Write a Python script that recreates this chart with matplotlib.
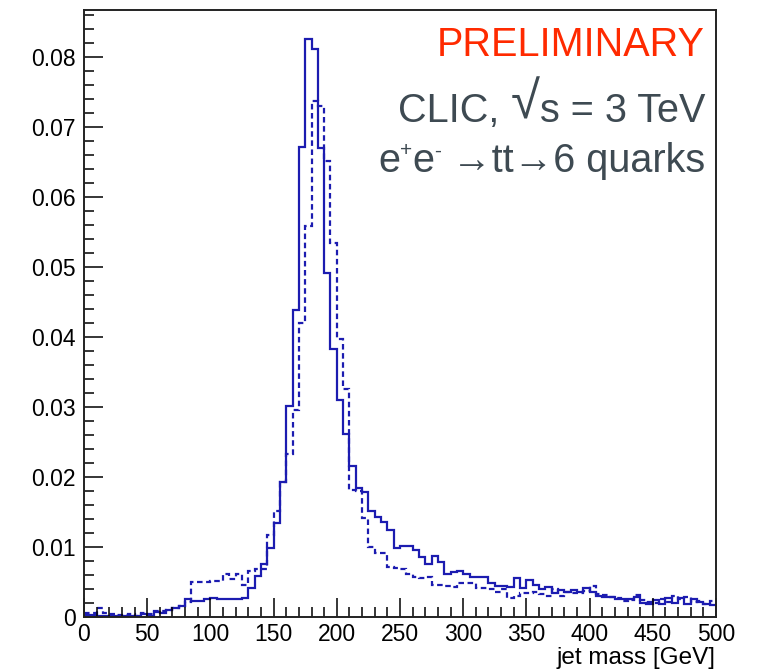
import numpy as np
import matplotlib
matplotlib.use("Agg")
import matplotlib.pyplot as plt
from matplotlib.ticker import MultipleLocator, FuncFormatter

plt.rcParams['font.family'] = ['Liberation Sans', 'DejaVu Sans']

# jet mass histogram, 5 GeV bins from 0 to 500 GeV (normalised)
bin_edges = np.linspace(0, 500, 101)

# solid line
solid = [
    0.0003, 0.0003, 0.0002, 0.0002, 0.0001, 0.0001, 0.0002, 0.0001, 0.0001, 0.0004,
    0.0002, 0.0007, 0.0006, 0.0010, 0.0013, 0.0015, 0.0026, 0.0023, 0.0023, 0.0026,
    0.0027, 0.0025, 0.0025, 0.0026, 0.0025, 0.0027, 0.0041, 0.0059, 0.0075, 0.0098,
    0.0134, 0.0193, 0.0302, 0.0439, 0.0672, 0.0825, 0.0811, 0.0670, 0.0491, 0.0383,
    0.0310, 0.0262, 0.0215, 0.0184, 0.0179, 0.0152, 0.0143, 0.0136, 0.0124, 0.0098,
    0.0101, 0.0101, 0.0095, 0.0085, 0.0076, 0.0087, 0.0079, 0.0062, 0.0064, 0.0066,
    0.0061, 0.0057, 0.0057, 0.0057, 0.0048, 0.0044, 0.0044, 0.0043, 0.0055, 0.0042,
    0.0053, 0.0046, 0.0040, 0.0043, 0.0034, 0.0038, 0.0036, 0.0038, 0.0035, 0.0042,
    0.0036, 0.0030, 0.0028, 0.0028, 0.0025, 0.0025, 0.0025, 0.0028, 0.0020, 0.0019,
    0.0024, 0.0018, 0.0027, 0.0020, 0.0027, 0.0018, 0.0026, 0.0022, 0.0018, 0.0017,
]

# dashed line
dashed = [
    0.0006, 0.0006, 0.0013, 0.0006, 0.0004, 0.0003, 0.0003, 0.0004, 0.0002, 0.0006,
    0.0004, 0.0008, 0.0009, 0.0010, 0.0013, 0.0015, 0.0021, 0.0050, 0.0050, 0.0050,
    0.0051, 0.0051, 0.0062, 0.0054, 0.0062, 0.0046, 0.0065, 0.0068, 0.0068, 0.0117,
    0.0152, 0.0193, 0.0233, 0.0296, 0.0420, 0.0558, 0.0737, 0.0730, 0.0651, 0.0534,
    0.0397, 0.0326, 0.0182, 0.0180, 0.0141, 0.0100, 0.0092, 0.0092, 0.0071, 0.0070,
    0.0068, 0.0062, 0.0057, 0.0056, 0.0057, 0.0046, 0.0045, 0.0044, 0.0043, 0.0049,
    0.0049, 0.0049, 0.0042, 0.0042, 0.0040, 0.0035, 0.0040, 0.0027, 0.0030, 0.0034,
    0.0034, 0.0036, 0.0033, 0.0030, 0.0040, 0.0030, 0.0035, 0.0034, 0.0034, 0.0037,
    0.0044, 0.0033, 0.0031, 0.0028, 0.0027, 0.0023, 0.0024, 0.0032, 0.0024, 0.0021,
    0.0020, 0.0026, 0.0022, 0.0030, 0.0026, 0.0028, 0.0021, 0.0023, 0.0019, 0.0023,
]

line_color = '#1c1cb0'
text_grey = '#3e4a52'
big = 28.5

fig = plt.figure(figsize=(7.62, 6.70), dpi=100)
ax = fig.add_axes([84 / 762, 53 / 670, 632 / 762, 607 / 670])

ax.stairs(solid, bin_edges, baseline=None, color=line_color, lw=1.6)
ax.stairs(dashed, bin_edges, baseline=None, color=line_color, lw=1.6,
          linestyle=(0, (2.5, 1.6)))

ax.set_xlim(0, 500)
ax.set_ylim(0, 0.0867)

# ROOT style ticks
ax.xaxis.set_major_locator(MultipleLocator(50))
ax.xaxis.set_minor_locator(MultipleLocator(10))
ax.yaxis.set_major_locator(MultipleLocator(0.01))
ax.yaxis.set_minor_locator(MultipleLocator(0.002))
ax.yaxis.set_major_formatter(FuncFormatter(lambda v, p: '0' if abs(v) < 1e-9 else f'{v:.2f}'))
ax.xaxis.set_major_formatter(FuncFormatter(lambda v, p: f'{v:.0f}'))
ax.tick_params(which='both', direction='in', top=False, right=False,
               width=1.1, colors='black', labelsize=16.5)
ax.tick_params(which='major', length=14)
ax.tick_params(which='minor', length=7)
ax.tick_params(axis='x', pad=4)
ax.tick_params(axis='y', pad=6)
for s in ax.spines.values():
    s.set_linewidth(1.4)
    s.set_color('#222222')

ax.set_xlabel('jet mass [GeV]', fontsize=17.5, loc='right', labelpad=1)

# annotation text
ax.text(0.9826, 0.9247, 'PRELIMINARY', transform=ax.transAxes, ha='right',
        va='baseline', fontsize=big, color='#ff2a00')

t_s = ax.text(0.9826, 0.816, 's = 3 TeV', transform=ax.transAxes, ha='right',
              va='baseline', fontsize=big, color=text_grey)
sq = ax.annotate('\u221a', xy=(0, 0), xycoords=t_s, ha='right', va='bottom',
                 fontsize=38, color=text_grey)
ax.annotate('CLIC, ', xy=(0, 0), xycoords=(sq, t_s), ha='right', va='bottom',
            fontsize=big, color=text_grey)

# e+e- -> tt -> 6 quarks, with small raised charge signs
proc = ax.text(0.9826, 0.733, ' \u2192tt\u21926 quarks', transform=ax.transAxes,
               ha='right', va='baseline', fontsize=big, color=text_grey)
minus = ax.annotate('-', xy=(0, 0.52), xycoords=proc, ha='right', va='bottom',
                    fontsize=15, color=text_grey)
e2 = ax.annotate('e', xy=(0, 0), xycoords=(minus, proc), ha='right', va='bottom',
                 fontsize=big, color=text_grey)
plus = ax.annotate('+', xy=(0, 0.52), xycoords=(e2, proc), ha='right', va='bottom',
                   fontsize=15, color=text_grey)
ax.annotate('e', xy=(0, 0), xycoords=(plus, proc), ha='right', va='bottom',
            fontsize=big, color=text_grey)

fig.savefig('out.png', dpi=100)
